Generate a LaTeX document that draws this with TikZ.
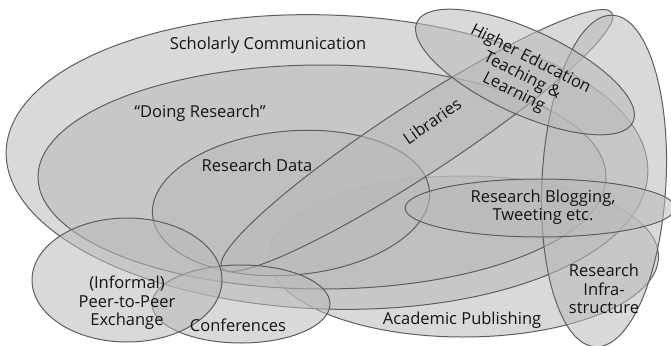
\documentclass[tikz,border=0pt]{standalone}
\usepackage{fontspec}
\setmainfont{Open Sans}
\definecolor{vfill}{gray}{0.73}
\definecolor{vline}{gray}{0.37}
\definecolor{vtext}{gray}{0.08}
\begin{document}
\begin{tikzpicture}[x=1pt,y=-1pt,
  venn/.style={fill=vfill, fill opacity=0.55, draw=vline, line width=1pt},
  lbl/.style={text=vtext, font=\fontsize{16.5}{18.5}\selectfont, align=center, inner sep=0pt}]
\useasboundingbox (0,0) rectangle (671,345);
\fill[white] (0,0) rectangle (671,345);
% ellipses (back to front)
\filldraw[venn] (463.5,256.5) ellipse [x radius=195pt, y radius=80.5pt];            % Academic Publishing
\filldraw[venn] (327,162) ellipse [x radius=321pt, y radius=147pt, rotate=-2];      % Scholarly Communication
\filldraw[venn] (322,177) ellipse [x radius=284pt, y radius=112pt];                 % Doing Research
\filldraw[venn] (291,203) ellipse [x radius=139pt, y radius=72pt, rotate=5];        % Research Data
\filldraw[venn] (417,140.5) ellipse [x radius=233pt, y radius=35pt, rotate=33.2];   % Libraries
\filldraw[venn] (241,304) ellipse [x radius=89pt, y radius=39pt];                   % Conferences
\filldraw[venn] (127,280) ellipse [x radius=95pt, y radius=62pt];                   % Peer-to-Peer
\filldraw[venn] (604,181) ellipse [x radius=62pt, y radius=166pt, rotate=-3];       % Research Infrastructure
\filldraw[venn] (540,208) ellipse [x radius=135pt, y radius=29pt];                  % Research Blogging
\filldraw[venn] (525,72) ellipse [x radius=119pt, y radius=42pt, rotate=-24.8];     % Higher Education
% labels
\node[lbl] (sc) at (268,45) {Scholarly Communication};
\node[lbl] (dr) at (200,113) {“Doing Research”};
\node[lbl] (rd) at (257,165) {Research Data};
\node[lbl, rotate=35] (lib) at (432,121) {Libraries};
\node[lbl, rotate=-27] (he) at (522,76) {Higher Education\\Teaching \&\\Learning};
\node[lbl] (rb) at (543,207) {Research Blogging,\\Tweeting etc.};
\node[lbl] (ri) at (604,289) {Research\\Infra-\\structure};
\node[lbl] (ap) at (462,320) {Academic Publishing};
\node[lbl] (conf) at (238,325) {Conferences};
\node[lbl] (peer) at (127,303) {(Informal)\\Peer-to-Peer\\Exchange};
\end{tikzpicture}
\end{document}
